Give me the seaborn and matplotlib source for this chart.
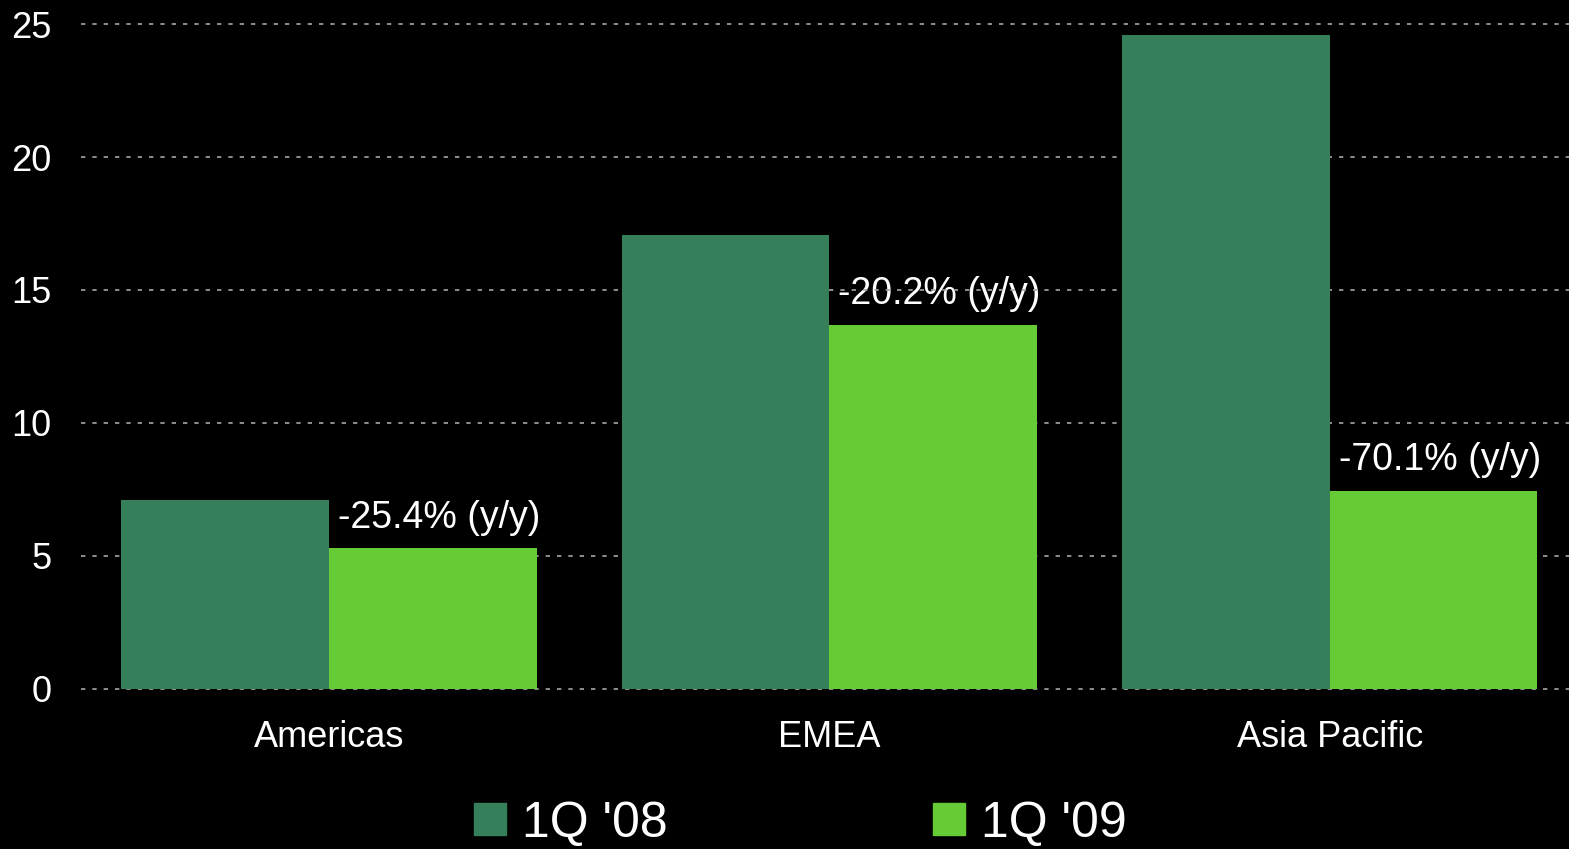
import matplotlib
matplotlib.use("Agg")
import matplotlib.pyplot as plt
import seaborn as sns
import pandas as pd

# Revenue by region, first quarter of each year
regions = ["Americas", "EMEA", "Asia Pacific"]
periods = ["1Q '08", "1Q '09"]
q1_2008 = [7.08, 17.05, 24.6]
q1_2009 = [5.27, 13.67, 7.45]
yoy_labels = ["-25.4% (y/y)", "-20.2% (y/y)", "-70.1% (y/y)"]
y_ticks = [0, 5, 10, 15, 20, 25]

colors = ["#367F5B", "#66CC36"]

df = pd.DataFrame({
    "region": regions * 2,
    "period": [periods[0]] * 3 + [periods[1]] * 3,
    "value": q1_2008 + q1_2009,
})

sns.set_theme(style="dark")
plt.rcParams["font.family"] = ["Liberation Sans", "DejaVu Sans"]

fig = plt.figure(figsize=(15.69, 8.49), dpi=100, facecolor="black")
ax = fig.add_axes([0.0516, 0.189, 0.9484, 0.7825])
ax.set_facecolor("black")

sns.barplot(data=df, x="region", y="value", hue="period", order=regions,
            hue_order=periods, palette=colors, width=0.83, saturation=1,
            edgecolor="none", linewidth=0, ax=ax, legend=False, zorder=1)

ax.set_ylim(0, 25)
ax.set_xlim(-0.496, 2.478)
ax.set_yticks(y_ticks)
ax.set_axisbelow(True)
ax.yaxis.grid(True, color="#A6A6A6", linewidth=1.2, linestyle=(0, (2.6, 4.2)))
ax.xaxis.grid(False)
for gl in ax.get_ygridlines():
    gl.set_clip_on(False)

for s in ax.spines.values():
    s.set_visible(False)

ax.tick_params(axis="y", length=0, pad=21, labelsize=26, labelcolor="white")
ax.tick_params(axis="x", length=0, pad=23, labelsize=26, labelcolor="white")
ax.set_xlabel("")
ax.set_ylabel("")

# Year-over-year change above each 1Q '09 bar
for bar, txt in zip(ax.containers[1], yoy_labels):
    cx = bar.get_x() + bar.get_width() / 2
    ax.annotate(txt, xy=(cx + 0.012, bar.get_height()), xytext=(0, 15),
                textcoords="offset points", ha="center", va="baseline",
                fontsize=27, color="white", zorder=0.4)

handles = [plt.Rectangle((0, 0), 1, 1, color=c) for c in colors]
fig.legend(handles, periods, loc="center", bbox_to_anchor=(0.51, 0.03),
           ncol=2, frameon=False, fontsize=36, labelcolor="white",
           handlelength=0.64, handleheight=0.62, handletextpad=0.32,
           columnspacing=5.3, borderpad=0, borderaxespad=0)

fig.savefig("out.png", dpi=100, facecolor="black")
